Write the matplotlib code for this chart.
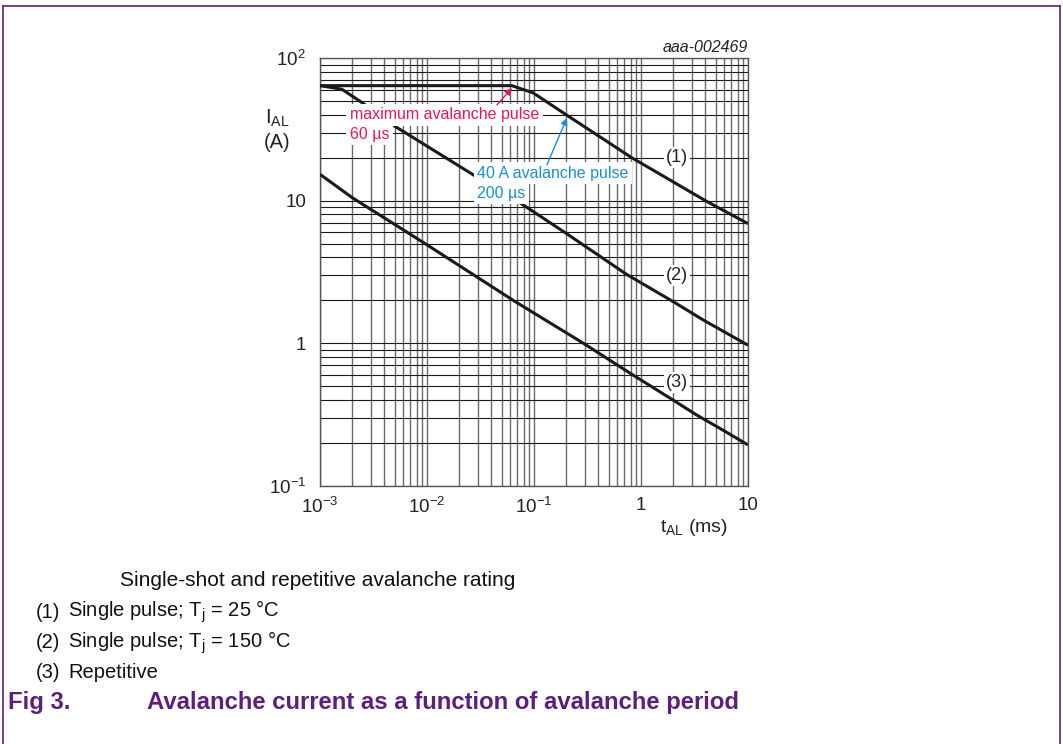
import matplotlib
matplotlib.use("Agg")
import matplotlib.pyplot as plt
from matplotlib.ticker import LogLocator, NullFormatter, FixedLocator
from matplotlib.lines import Line2D

plt.rcParams['font.family'] = ['Liberation Sans', 'DejaVu Sans']
plt.rcParams['mathtext.fontset'] = 'custom'
plt.rcParams['mathtext.rm'] = 'Liberation Sans'
plt.rcParams['mathtext.it'] = 'Liberation Sans:italic'
plt.rcParams['mathtext.bf'] = 'Liberation Sans:bold'

# ---- data (t in ms, I in A) ----
t_25c = [0.001, 0.062, 0.098, 0.2, 0.82, 4.0, 10]
i_25c = [64, 64, 57, 40, 20, 10, 6.9]

t_150c = [0.001, 0.0016, 0.0025, 0.0048, 0.029, 0.069, 0.2, 0.73, 2.0, 3.8, 10]
i_150c = [64, 60.4, 48.4, 33.9, 14.7, 10, 5.9, 3.05, 1.96, 1.46, 0.97]

t_rep = [0.001, 0.002, 0.0096, 0.064, 0.29, 0.84, 2.0, 3.3, 5.8, 10]
i_rep = [15.3, 10.5, 5.0, 2.0, 1.0, 0.60, 0.40, 0.315, 0.247, 0.194]

x_ticks = [1e-3, 1e-2, 1e-1, 1, 10]
x_labels = ["10$^{-3}$", "10$^{-2}$", "10$^{-1}$", "1", "10"]
y_ticks = [0.1, 1, 10, 100]
y_labels = ["10$^{-1}$", "1", "10", "10$^{2}$"]

curve_labels = ["(1)", "(2)", "(3)"]
legend_lines = ["(1)", "(2)", "(3)"]
legend_texts = ["Single pulse; T$_\\mathregular{j}$ = 25 °C",
                "Single pulse; T$_\\mathregular{j}$ = 150 °C",
                "Repetitive"]

W, H = 1063, 744
fig = plt.figure(figsize=(W / 100, H / 100), dpi=100)
fig.patch.set_facecolor('white')

def fx(px):
    return px / W

def fy(py):
    return 1 - py / H

ax = fig.add_axes([fx(320), fy(486), fx(748) - fx(320), fy(58) - fy(486)])
ax.set_xscale('log')
ax.set_yscale('log')
ax.set_xlim(1e-3, 10)
ax.set_ylim(0.1, 100)

ax.xaxis.set_major_locator(FixedLocator(x_ticks))
ax.set_xticklabels(x_labels)
ax.yaxis.set_major_locator(FixedLocator(y_ticks))
ax.set_yticklabels(y_labels)
ax.xaxis.set_minor_locator(LogLocator(base=10, subs=range(2, 10), numticks=20))
ax.yaxis.set_minor_locator(LogLocator(base=10, subs=range(2, 10), numticks=20))
ax.xaxis.set_minor_formatter(NullFormatter())
ax.yaxis.set_minor_formatter(NullFormatter())
ax.tick_params(which='both', length=0, labelsize=13.5, colors='#222222')
ax.tick_params(axis='x', pad=8)
ax.tick_params(axis='y', pad=10)

ax.xaxis.grid(True, which='both', color='#6a6a6a', lw=1.0)
ax.yaxis.grid(True, which='both', color='#1a1a1a', lw=0.8)
ax.set_axisbelow(True)
for s in ax.spines.values():
    s.set_color('#555555')
    s.set_linewidth(1.0)

for t, i in [(t_25c, i_25c), (t_150c, i_150c), (t_rep, i_rep)]:
    ax.plot(t, i, color='#1a1a1a', lw=2.2, solid_capstyle='butt', zorder=3)

white = dict(facecolor='white', edgecolor='none', pad=2.5)
red = '#e3185b'
blue = '#1a8fd0'

ax.text(0.0019, 40, "maximum avalanche pulse", color=red, fontsize=11.5,
        ha='left', va='center', bbox=white, zorder=4)
ax.text(0.0019, 29.3, "60 µs", color=red, fontsize=11.5,
        ha='left', va='center', bbox=white, zorder=4)
ax.annotate("", xy=(0.0622, 61.6), xytext=(0.0451, 46.9),
            arrowprops=dict(arrowstyle='-|>', color=red, lw=1.0,
                            mutation_scale=10, shrinkA=0, shrinkB=0), zorder=5)

ax.text(0.0294, 15.6, "40 A avalanche pulse", color=blue, fontsize=11.5,
        ha='left', va='center', bbox=white, zorder=4)
ax.text(0.0294, 11.3, "200 µs", color=blue, fontsize=11.5,
        ha='left', va='center', bbox=white, zorder=4)
ax.annotate("", xy=(0.203, 38), xytext=(0.132, 17.8),
            arrowprops=dict(arrowstyle='-|>', color=blue, lw=1.0,
                            mutation_scale=10, shrinkA=0, shrinkB=0), zorder=5)

for lab, yv in zip(curve_labels, [20, 3.0, 0.53]):
    ax.text(2.17, yv, lab, color='#222222', fontsize=13, ha='center',
            va='center', bbox=dict(facecolor='white', edgecolor='none', pad=1.5),
            zorder=4)

# axis labels
fig.text(fx(277), fy(118), "I$_\\mathregular{AL}$", fontsize=14.5, ha='center',
         va='center', color='#222222')
fig.text(fx(277), fy(143), "(A)", fontsize=14.5, ha='center', va='center',
         color='#222222')
fig.text(fx(694), fy(527), "t$_\\mathregular{AL}$ (ms)", fontsize=14,
         ha='center', va='center', color='#222222')
fig.text(fx(748), fy(48), "aaa-002469", fontsize=11.5, style='italic',
         ha='right', va='center', color='#222222')

# caption
fig.text(fx(120), fy(581), "Single-shot and repetitive avalanche rating",
         fontsize=15, ha='left', va='center', color='#111111')
for k, (n, txt) in enumerate(zip(legend_lines, legend_texts)):
    yy = 612 + 30.5 * k
    fig.text(fx(36), fy(yy), n, fontsize=14.5, ha='left', va='center', color='#111111')
    fig.text(fx(68), fy(yy), txt, fontsize=14.5, ha='left', va='center', color='#111111')

purple = '#5b1f80'
fig.text(fx(8), fy(702), "Fig 3.", fontsize=17.2, weight='bold', ha='left',
         va='center', color=purple)
fig.text(fx(147), fy(702), "Avalanche current as a function of avalanche period",
         fontsize=17.2, weight='bold', ha='left', va='center', color=purple)

# frame
fig.add_artist(Line2D([fx(3), fx(3)], [0, fy(6)], color=purple, lw=1.2))
fig.add_artist(Line2D([fx(3), fx(1060)], [fy(6), fy(6)], color=purple, lw=1.2))
fig.add_artist(Line2D([fx(1060), fx(1060)], [0, fy(6)], color=purple, lw=1.2))

fig.savefig("out.png", dpi=100, facecolor='white')
